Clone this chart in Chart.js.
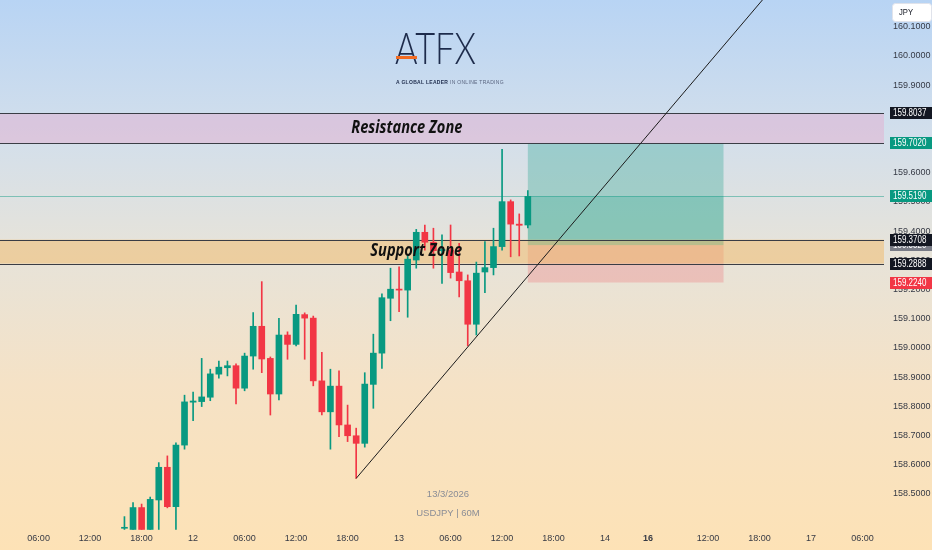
<!DOCTYPE html>
<html>
<head>
<meta charset="utf-8">
<script src="https://cdn.jsdelivr.net/npm/chart.js@4.4.1/dist/chart.umd.min.js"></script>
<style>
html, body { margin: 0; padding: 0; }
body {
    width: 932px; height: 550px; overflow: hidden; position: relative;
    background: linear-gradient(to bottom, #b8d4f4 0%, #d3dfeb 25%, #e6e3da 45%, #f5e2c6 70%, #fde2b6 100%);
    font-family: "Liberation Sans", sans-serif;
}
#myChart { position: absolute; left: 0; top: 0; }
.logo { position: absolute; left: 395px; top: 22px; font: 300 43px Lato, sans-serif; color: #1d2b4b;
    transform: scaleX(0.8); transform-origin: left top; }
.logoBar { position: absolute; left: 396px; top: 56px; width: 21px; height: 3px; background: #f26b21; }
.tagline { position: absolute; left: 396px; top: 79px; font: bold 5px "Liberation Sans", sans-serif; color: #1d2b4b;
    letter-spacing: 0.3px; white-space: nowrap; }
.tagline span { color: #5b6680; font-weight: normal; }
.mark { position: absolute; width: 200px; left: 348px; text-align: center; font-size: 9.5px; color: #8a8d96; }
</style>
</head>
<body>
<canvas id="myChart" width="932" height="550"></canvas>
<div class="logo">ATFX</div>
<div class="logoBar"></div>
<div class="tagline">A GLOBAL LEADER <span>IN ONLINE TRADING</span></div>
<div class="mark" style="top:488px">13/3/2026</div>
<div class="mark" style="top:507px">USDJPY | 60M</div>
<script>
// hourly slots, counted from 11/3 00:00
const FIRST_SLOT = 2;
const LAST_SLOT = 104;
const FIRST_CANDLE = 16;   // 11/3 16:00

const open = [158.382, 158.378, 158.453, 158.378, 158.479, 158.591, 158.456, 158.667, 158.814, 158.816, 158.831, 158.910,
    158.932, 158.939, 158.862, 158.972, 159.074, 158.964, 158.842, 159.044, 159.012, 159.114, 159.102, 158.887,
    158.781, 158.869, 158.736, 158.699, 158.673, 158.875, 158.982, 159.170, 159.201, 159.198, 159.301, 159.396,
    159.362, 159.333, 159.335, 159.260, 159.230, 159.081, 159.260, 159.275, 159.347, 159.501, 159.424, 159.421];
const high = [158.422, 158.470, 158.465, 158.489, 158.607, 158.630, 158.675, 158.838, 158.849, 158.964, 158.927, 158.955,
    158.955, 158.945, 158.982, 159.121, 159.227, 158.969, 159.101, 159.055, 159.147, 159.120, 159.109, 158.985,
    158.927, 158.921, 158.804, 158.725, 158.915, 159.047, 159.185, 159.273, 159.278, 159.318, 159.406, 159.421,
    159.410, 159.387, 159.421, 159.358, 159.250, 159.294, 159.364, 159.410, 159.680, 159.507, 159.459, 159.539];
const low = [158.378, 158.378, 158.378, 158.378, 158.378, 158.452, 158.378, 158.653, 158.751, 158.799, 158.819, 158.896,
    158.904, 158.808, 158.853, 158.927, 158.915, 158.770, 158.822, 158.961, 159.007, 158.961, 158.870, 158.770,
    158.653, 158.696, 158.679, 158.553, 158.660, 158.793, 158.930, 159.093, 159.124, 159.105, 159.273, 159.335,
    159.273, 159.221, 159.239, 159.175, 159.007, 159.044, 159.189, 159.250, 159.335, 159.312, 159.315, 159.411];
const close = [158.385, 158.453, 158.378, 158.481, 158.591, 158.456, 158.667, 158.815, 158.818, 158.832, 158.911, 158.934,
    158.939, 158.862, 158.972, 159.074, 158.962, 158.842, 159.044, 159.012, 159.115, 159.102, 158.887, 158.781,
    158.869, 158.736, 158.699, 158.673, 158.876, 158.982, 159.172, 159.201, 159.198, 159.304, 159.396, 159.362,
    159.333, 159.337, 159.258, 159.230, 159.081, 159.256, 159.275, 159.347, 159.501, 159.424, 159.420, 159.519];

const tickSlots = [6, 12, 18, 24, 30, 36, 42, 48, 54, 60, 66, 72, 77, 84, 90, 96, 102];
const tickNames = ['06:00', '12:00', '18:00', '12', '06:00', '12:00', '18:00', '13', '06:00', '12:00', '18:00', '14', '16',
    '12:00', '18:00', '17', '06:00'];

const resistance = [159.8037, 159.7020];
const support = [159.3708, 159.2888];
const trendPoints = [[43, 158.553], [104, 160.665]];
const position = { from: 63, to: 85.8, target: 159.7020, entry: 159.3520, stop: 159.2240 };
const lastPrice = 159.5190;
const tagPrices = [159.8037, 159.7020, 159.5190, 159.3520, 159.3708, 159.2888, 159.2240];
const tagColors = ['#131722', '#089981', '#089981', '#787b86', '#131722', '#131722', '#f23645'];

const UP = '#089981';
const DOWN = '#f23645';
const FONT = '"Liberation Sans", Arimo, sans-serif';

const categories = [];
for (let h = FIRST_SLOT; h <= LAST_SLOT; h++) categories.push(String(h));
const tickText = categories.map(() => '');
tickSlots.forEach((s, i) => { tickText[s - FIRST_SLOT] = tickNames[i]; });

const candleAt = k => {
    const i = k + FIRST_SLOT - FIRST_CANDLE;
    return i >= 0 && i < open.length ? i : -1;
};
const bodies = categories.map((_, k) => { const i = candleAt(k); return i < 0 ? null : [open[i], close[i]]; });
const wicks = categories.map((_, k) => { const i = candleAt(k); return i < 0 ? null : [low[i], high[i]]; });
const colors = categories.map((_, k) => { const i = candleAt(k); return i >= 0 && close[i] < open[i] ? DOWN : UP; });
const trend = categories.map(() => null);
trendPoints.forEach(p => { trend[p[0] - FIRST_SLOT] = p[1]; });

// narrow text: draw squeezed horizontally
function narrowText(ctx, text, x, y, sx) {
    ctx.save();
    ctx.translate(x, y);
    ctx.scale(sx, 1);
    ctx.fillText(text, 0, 0);
    ctx.restore();
}

const overlay = {
    id: 'overlay',
    beforeDatasetsDraw(chart) {
        const { ctx, chartArea: a, scales: { x, y } } = chart;
        const py = v => y.getPixelForValue(v);
        const px = s => x.getPixelForValue(s - FIRST_SLOT);
        ctx.save();
        ctx.fillStyle = 'rgba(232, 160, 200, 0.38)';
        ctx.fillRect(a.left, py(resistance[0]), a.right - a.left, py(resistance[1]) - py(resistance[0]));
        // long position
        const l = px(position.from), r = px(position.to);
        ctx.fillStyle = 'rgba(8, 153, 129, 0.28)';
        ctx.fillRect(l, py(position.target), r - l, py(position.entry) - py(position.target));
        ctx.fillStyle = 'rgba(8, 153, 129, 0.18)';
        ctx.fillRect(l, py(lastPrice), r - l, py(position.entry) - py(lastPrice));
        ctx.fillStyle = 'rgba(242, 54, 69, 0.2)';
        ctx.fillRect(l, py(position.entry), r - l, py(position.stop) - py(position.entry));
        ctx.fillStyle = 'rgba(242, 180, 90, 0.45)';
        ctx.fillRect(a.left, py(support[0]), a.right - a.left, py(support[1]) - py(support[0]));
        ctx.lineWidth = 1;
        ctx.strokeStyle = 'rgba(8, 153, 129, 0.45)';
        ctx.beginPath();
        ctx.moveTo(a.left, Math.round(py(lastPrice)) + 0.5);
        ctx.lineTo(a.right, Math.round(py(lastPrice)) + 0.5);
        ctx.stroke();
        ctx.strokeStyle = '#3a3d45';
        resistance.concat(support).forEach(v => {
            const yy = Math.round(py(v)) + 0.5;
            ctx.beginPath();
            ctx.moveTo(a.left, yy);
            ctx.lineTo(a.right, yy);
            ctx.stroke();
        });
        ctx.restore();
    },
    afterDatasetsDraw(chart) {
        const { ctx, scales: { x, y } } = chart;
        ctx.save();
        ctx.fillStyle = '#111';
        ctx.font = 'italic bold 17px "Open Sans", ' + FONT;
        ctx.textAlign = 'center';
        ctx.textBaseline = 'middle';
        narrowText(ctx, 'Resistance Zone', x.getPixelForValue(48.9 - FIRST_SLOT), y.getPixelForValue((resistance[0] + resistance[1]) / 2), 0.86);
        narrowText(ctx, 'Support Zone', x.getPixelForValue(50 - FIRST_SLOT), y.getPixelForValue((support[0] + support[1]) / 2), 0.86);
        ctx.restore();
    },
    afterDraw(chart) {
        const { ctx, chartArea: a, scales: { y } } = chart;
        ctx.save();
        ctx.font = '10px ' + FONT;
        ctx.textBaseline = 'middle';
        tagPrices.forEach((v, i) => {
            const yy = Math.round(y.getPixelForValue(v));
            ctx.fillStyle = tagColors[i];
            ctx.fillRect(a.right + 6, yy - 6, 42, 12);
            ctx.fillStyle = '#fff';
            narrowText(ctx, v.toFixed(4), a.right + 9, yy + 0.5, 0.8);
        });
        // currency box
        ctx.fillStyle = '#fff';
        ctx.strokeStyle = '#e0e3eb';
        ctx.beginPath();
        ctx.roundRect(a.right + 8.5, 3.5, 39, 18, 3);
        ctx.fill();
        ctx.stroke();
        ctx.fillStyle = '#131722';
        ctx.font = '9px ' + FONT;
        narrowText(ctx, 'JPY', a.right + 15, 12.5, 0.85);
        ctx.restore();
    }
};

const actx = document.getElementById('myChart');
new Chart(actx, {
    type: 'bar',
    data: {
        labels: categories,
        datasets: [
            { type: 'line', data: trend, borderColor: '#1b1b1b', borderWidth: 1, pointRadius: 0, spanGaps: true, order: -1 },
            { data: bodies, backgroundColor: colors, barThickness: 6, grouped: false, minBarLength: 1, order: 0 },
            { data: wicks, backgroundColor: colors, barThickness: 1, grouped: false, order: 1 }
        ]
    },
    options: {
        responsive: false,
        animation: false,
        layout: { padding: 0 },
        plugins: { legend: { display: false }, tooltip: { enabled: false } },
        scales: {
            x: {
                offset: true,
                grid: { display: false, drawTicks: false },
                border: { display: false },
                ticks: {
                    autoSkip: false, maxRotation: 0, padding: 2, color: '#363a45',
                    font: c => ({ family: FONT, size: 9, weight: tickText[c.index] === '16' ? 'bold' : 'normal' }),
                    callback: (v, i) => tickText[i]
                },
                afterFit: s => { s.height = 19; s.paddingLeft = 0; s.paddingRight = 0; }
            },
            y: {
                position: 'right',
                min: 158.3727,
                max: 160.1918,
                grid: { display: false, drawTicks: false },
                border: { display: false },
                ticks: {
                    stepSize: 0.1, includeBounds: false, padding: 9, color: '#363a45',
                    font: { family: FONT, size: 9 },
                    callback: v => v < 158.45 ? '' : v.toFixed(4)
                },
                afterFit: s => { s.width = 48; s.paddingTop = 0; s.paddingBottom = 0; }
            }
        }
    },
    plugins: [overlay]
});
</script>
</body>
</html>
